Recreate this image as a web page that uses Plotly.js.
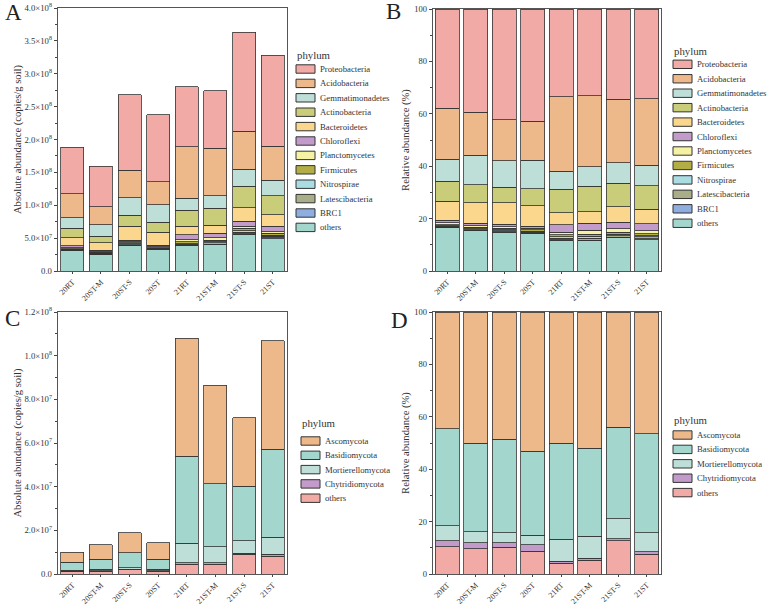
<!DOCTYPE html>
<html><head><meta charset="utf-8">
<script src="https://cdn.plot.ly/plotly-3.0.1.min.js"></script>
<style>html,body{margin:0;padding:0;background:#fff}#chart{width:767px;height:607px}</style>
</head><body><div id="chart"></div>
<script>
// ---------- DATA ----------
const samples = ['20RT', '20ST-M', '20ST-S', '20ST', '21RT', '21ST-M', '21ST-S', '21ST'];

// Bacteria phyla, bottom-to-top stacking order
const bacteriaPhyla = ['others', 'BRC1', 'Latescibacteria', 'Nitrospirae', 'Firmicutes', 'Planctomycetes',
  'Chloroflexi', 'Bacteroidetes', 'Actinobacteria', 'Gemmatimonadetes', 'Acidobacteria', 'Proteobacteria'];

// Panel A: absolute abundance, in units of 10^7 copies/g soil
const absOthers           = [3.10, 2.54, 3.86, 3.25, 3.86, 4.01, 5.58, 4.92];
const absBRC1             = [0.05, 0.04, 0.06, 0.04, 0.08, 0.08, 0.10, 0.10];
const absLatescibacteria  = [0.06, 0.05, 0.08, 0.06, 0.12, 0.20, 0.25, 0.25];
const absNitrospirae      = [0.10, 0.08, 0.12, 0.09, 0.12, 0.15, 0.20, 0.15];
const absFirmicutes       = [0.10, 0.12, 0.15, 0.12, 0.25, 0.25, 0.40, 0.30];
const absPlanctomycetes   = [0.15, 0.12, 0.15, 0.15, 0.34, 0.38, 0.31, 0.27];
const absChloroflexi      = [0.30, 0.20, 0.25, 0.20, 0.76, 0.71, 0.76, 0.81];
const absBacteroidetes    = [1.22, 1.17, 2.17, 1.98, 1.31, 1.17, 2.04, 1.77];
const absActinobacteria   = [1.46, 1.00, 1.63, 1.56, 2.39, 2.59, 3.24, 2.84];
const absGemmatimonadetes = [1.58, 1.73, 2.69, 2.65, 1.87, 1.92, 2.63, 2.38];
const absAcidobacteria    = [3.65, 2.69, 4.20, 3.44, 7.81, 7.20, 5.73, 5.22];
const absProteobacteria   = [7.09, 6.23, 11.41, 10.24, 9.13, 8.77, 15.06, 13.79];

// Panel B: relative abundance (%)
const relOthers           = [16.5, 15.3, 14.8, 14.3, 11.7, 11.5, 12.6, 12.0];
const relBRC1             = [0.2, 0.2, 0.2, 0.2, 0.3, 0.3, 0.3, 0.3];
const relLatescibacteria  = [0.3, 0.3, 0.3, 0.3, 0.5, 0.7, 0.6, 0.7];
const relNitrospirae      = [0.3, 0.3, 0.4, 0.3, 0.5, 0.7, 0.5, 0.4];
const relFirmicutes       = [0.4, 0.6, 0.6, 0.6, 0.8, 0.9, 0.8, 0.9];
const relPlanctomycetes   = [0.7, 0.6, 0.5, 0.7, 1.0, 1.5, 1.4, 1.1];
const relChloroflexi      = [0.9, 1.0, 1.0, 0.7, 2.8, 2.6, 2.4, 2.7];
const relBacteroidetes    = [7.4, 7.8, 8.2, 7.9, 4.6, 4.5, 6.0, 5.4];
const relActinobacteria   = [7.5, 6.9, 5.9, 6.3, 9.0, 9.7, 8.8, 9.0];
const relGemmatimonadetes = [8.4, 11.1, 10.1, 11.0, 6.9, 7.3, 7.9, 7.8];
const relAcidobacteria    = [19.6, 16.4, 15.8, 14.8, 28.4, 27.1, 24.2, 25.4];
const relProteobacteria   = [37.8, 39.5, 42.2, 42.9, 33.5, 33.2, 34.5, 34.3];

// Fungal phyla, bottom-to-top stacking order
const fungiPhyla = ['others', 'Chytridiomycota', 'Mortierellomycota', 'Basidiomycota', 'Ascomycota'];

// Panel C: absolute abundance, in units of 10^7 copies/g soil
const absFungiOthers      = [0.10, 0.13, 0.19, 0.12, 0.45, 0.45, 0.90, 0.81];
const absChytridiomycota  = [0.02, 0.03, 0.03, 0.04, 0.06, 0.07, 0.06, 0.10];
const absMortierellomycota= [0.06, 0.06, 0.07, 0.05, 0.90, 0.73, 0.56, 0.77];
const absBasidiomycota    = [0.35, 0.46, 0.68, 0.46, 3.98, 2.88, 2.49, 4.03];
const absAscomycota       = [0.46, 0.67, 0.91, 0.76, 5.41, 4.51, 3.14, 4.98];

// Panel D: relative abundance (%)
const relFungiOthers      = [10.4, 9.6, 10.3, 8.7, 4.2, 5.3, 12.7, 7.5];
const relChytridiomycota  = [2.3, 2.3, 1.6, 2.5, 0.6, 0.8, 0.7, 1.0];
const relMortierellomycota= [5.7, 4.3, 3.9, 3.5, 8.4, 8.3, 7.6, 7.2];
const relBasidiomycota    = [37.1, 33.7, 35.7, 32.1, 36.7, 33.6, 35.1, 37.8];
const relAscomycota       = [44.5, 50.1, 48.5, 53.2, 50.1, 52.0, 43.9, 46.5];

// Tick labels
const tickLabelsA = ['0.0', '5.0×10<sup>7</sup>', '1.0×10<sup>8</sup>', '1.5×10<sup>8</sup>', '2.0×10<sup>8</sup>',
  '2.5×10<sup>8</sup>', '3.0×10<sup>8</sup>', '3.5×10<sup>8</sup>', '4.0×10<sup>8</sup>'];
const tickValuesA = [0, 5e7, 1e8, 1.5e8, 2e8, 2.5e8, 3e8, 3.5e8, 4e8];
const tickLabelsC = ['0.0', '2.0×10<sup>7</sup>', '4.0×10<sup>7</sup>', '6.0×10<sup>7</sup>', '8.0×10<sup>7</sup>',
  '1.0×10<sup>8</sup>', '1.2×10<sup>8</sup>'];
const tickValuesC = [0, 2e7, 4e7, 6e7, 8e7, 1e8, 1.2e8];

// ---------- STYLE ----------
const bacteriaColors = {
  'Proteobacteria': '#F2AAA7', 'Acidobacteria': '#EEB98A', 'Gemmatimonadetes': '#BEDFD8',
  'Actinobacteria': '#C9CC78', 'Bacteroidetes': '#FAD78C', 'Chloroflexi': '#C39BCB',
  'Planctomycetes': '#F5F2A3', 'Firmicutes': '#B2AE45', 'Nitrospirae': '#AADCE3',
  'Latescibacteria': '#A9AE88', 'BRC1': '#8FAEDF', 'others': '#A3D7CE'
};
const fungiColors = {
  'Ascomycota': '#EEB98A', 'Basidiomycota': '#A3D7CE', 'Mortierellomycota': '#BEDFD8',
  'Chytridiomycota': '#C39BCB', 'others': '#F2AAA7'
};
const W = 767, H = 607;
const FONT = '"Liberation Serif", "Times New Roman", serif';
const TXT = '#333333';
const px = x => x / W;
const py = y => 1 - y / H;

const absBacteria = [absOthers, absBRC1, absLatescibacteria, absNitrospirae, absFirmicutes, absPlanctomycetes,
  absChloroflexi, absBacteroidetes, absActinobacteria, absGemmatimonadetes, absAcidobacteria, absProteobacteria];
const relBacteria = [relOthers, relBRC1, relLatescibacteria, relNitrospirae, relFirmicutes, relPlanctomycetes,
  relChloroflexi, relBacteroidetes, relActinobacteria, relGemmatimonadetes, relAcidobacteria, relProteobacteria];
const absFungi = [absFungiOthers, absChytridiomycota, absMortierellomycota, absBasidiomycota, absAscomycota];
const relFungi = [relFungiOthers, relChytridiomycota, relMortierellomycota, relBasidiomycota, relAscomycota];

const traces = [];
function addStack(names, arrays, colors, xa, ya, scale, barWidth) {
  names.forEach((name, i) => {
    traces.push({
      type: 'bar', name: name, x: samples, y: arrays[i].map(v => v * scale),
      xaxis: xa, yaxis: ya, width: barWidth, showlegend: false,
      marker: { color: colors[name], line: { color: '#333333', width: 0.8 } },
      hovertemplate: name + ': %{y}<extra></extra>'
    });
  });
}
addStack(bacteriaPhyla, absBacteria, bacteriaColors, 'x', 'y', 1e7, 0.8);
addStack(bacteriaPhyla, relBacteria, bacteriaColors, 'x2', 'y2', 1, 0.84);
addStack(fungiPhyla, absFungi, fungiColors, 'x3', 'y3', 1e7, 0.8);
addStack(fungiPhyla, relFungi, fungiColors, 'x4', 'y4', 1, 0.84);

function xAxis(d0, d1, anchor) {
  return {
    domain: [px(d0), px(d1)], anchor: anchor, type: 'category', tickangle: -45,
    ticks: 'outside', ticklen: 2, tickcolor: '#444', showline: true, mirror: true,
    linecolor: '#555', linewidth: 1.3, showgrid: false, zeroline: false,
    tickfont: { family: FONT, size: 8, color: TXT }
  };
}
function yAxis(top, bottom, anchor, range, extra, title, standoff, tsize) {
  return Object.assign({
    domain: [py(bottom), py(top)], anchor: anchor, range: range,
    ticks: 'outside', ticklen: 3, tickcolor: '#444', showline: true, mirror: true,
    linecolor: '#555', linewidth: 1.3, showgrid: false, zeroline: false,
    tickfont: { family: FONT, size: tsize, color: TXT },
    title: { text: title, font: { family: FONT, size: 10.6, color: TXT }, standoff: standoff }
  }, extra);
}

const layout = {
  width: W, height: H, margin: { l: 0, r: 0, t: 0, b: 0 },
  paper_bgcolor: '#ffffff', plot_bgcolor: '#ffffff',
  barmode: 'stack', showlegend: false,
  font: { family: FONT, color: TXT },
  xaxis: xAxis(58, 287, 'y'),
  xaxis2: xAxis(433, 661, 'y2'),
  xaxis3: xAxis(58, 287, 'y3'),
  xaxis4: xAxis(433, 661, 'y4'),
  yaxis: yAxis(8, 271, 'x', [0, 4e8], { tickmode: 'array', tickvals: tickValuesA, ticktext: tickLabelsA,
    minor: { ticks: 'outside', ticklen: 2, tickcolor: '#444', dtick: 2.5e7, tick0: 0 } },
    'Absolute abundance (copies/g soil)', 0, 8.7),
  yaxis2: yAxis(9, 271, 'x2', [0, 100], { tickmode: 'linear', dtick: 20, tick0: 0,
    minor: { ticks: 'outside', ticklen: 2, tickcolor: '#444', dtick: 10, tick0: 0 } },
    'Relative abundance (%)', 2, 8.5),
  yaxis3: yAxis(312, 574, 'x3', [0, 1.2e8], { tickmode: 'array', tickvals: tickValuesC, ticktext: tickLabelsC,
    minor: { ticks: 'outside', ticklen: 2, tickcolor: '#444', dtick: 1e7, tick0: 0 } },
    'Absolute abundance (copies/g soil)', 0, 8.7),
  yaxis4: yAxis(312, 574, 'x4', [0, 100], { tickmode: 'linear', dtick: 20, tick0: 0,
    minor: { ticks: 'outside', ticklen: 2, tickcolor: '#444', dtick: 10, tick0: 0 } },
    'Relative abundance (%)', 2, 8.5),
  shapes: [], annotations: []
};

// Panel letters
[['A', 3, 13], ['B', 384, 12], ['C', 3, 318], ['D', 389, 320]].forEach(([t, x, y]) => {
  layout.annotations.push({ text: t, x: px(x), y: py(y), xref: 'paper', yref: 'paper',
    xanchor: 'left', yanchor: 'middle', showarrow: false, font: { family: FONT, size: 23, color: '#222' } });
});

// Manual legends (rectangular swatches)
function addLegend(names, colors, x0, titleY, firstY, step) {
  layout.annotations.push({ text: 'phylum', x: px(x0 - 1), y: py(titleY), xref: 'paper', yref: 'paper',
    xanchor: 'left', yanchor: 'middle', showarrow: false, font: { family: FONT, size: 10.8, color: TXT } });
  names.forEach((name, i) => {
    const cy = firstY + i * step;
    layout.shapes.push({ type: 'rect', xref: 'paper', yref: 'paper',
      x0: px(x0), x1: px(x0 + 19), y0: py(cy - 4.2), y1: py(cy + 4.2),
      fillcolor: colors[name], line: { color: '#333', width: 1 } });
    layout.annotations.push({ text: name, x: px(x0 + 22), y: py(cy), xref: 'paper', yref: 'paper',
      xanchor: 'left', yanchor: 'middle', showarrow: false, font: { family: FONT, size: 8.7, color: TXT } });
  });
}
const bacteriaLegendOrder = bacteriaPhyla.slice().reverse();
const fungiLegendOrder = fungiPhyla.slice().reverse();
addLegend(bacteriaLegendOrder, bacteriaColors, 296, 55, 69, 14.4);
addLegend(bacteriaLegendOrder, bacteriaColors, 673, 51, 64.3, 14.45);
addLegend(fungiLegendOrder, fungiColors, 301, 423, 441, 14.3);
addLegend(fungiLegendOrder, fungiColors, 673, 420, 435, 14.4);

Plotly.newPlot('chart', traces, layout, { displayModeBar: false, staticPlot: true });
</script>
</body></html>
